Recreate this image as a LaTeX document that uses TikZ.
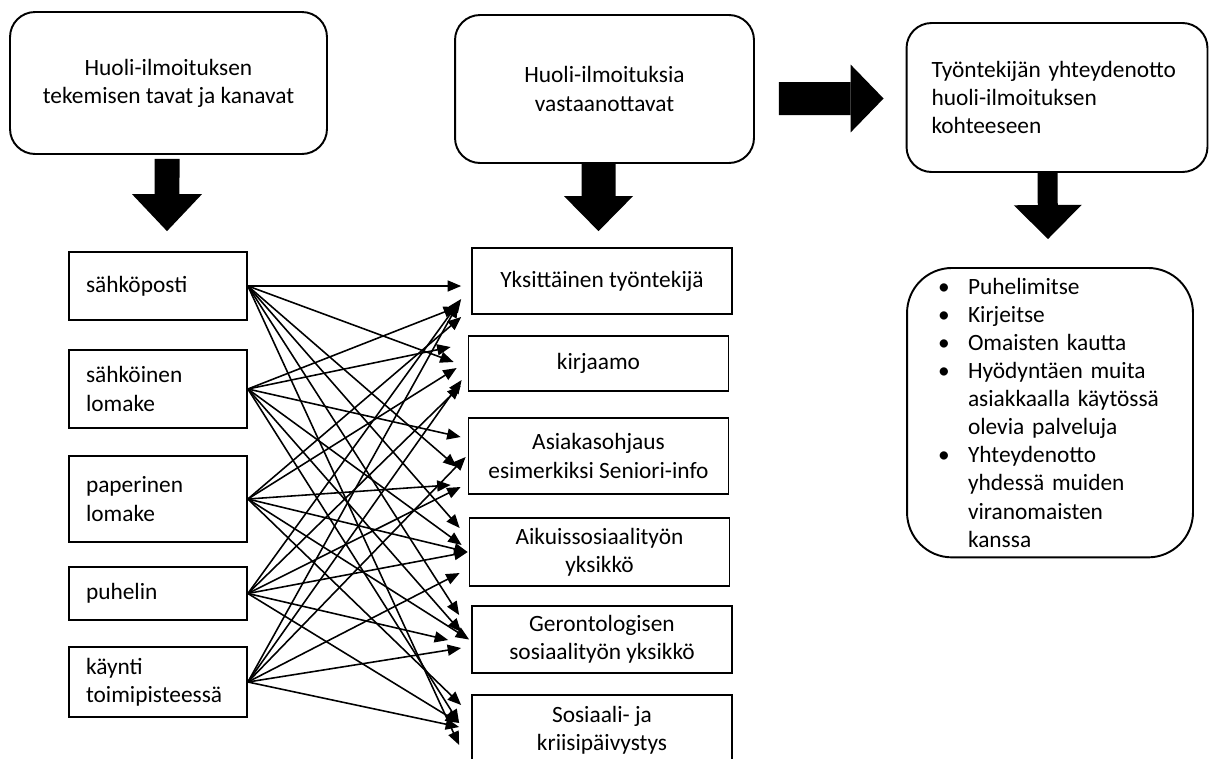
\documentclass[tikz,border=0pt]{standalone}
\usepackage{fontspec}
\setmainfont{Carlito}
\usetikzlibrary{positioning, arrows.meta, shapes}
\tikzstyle{heading} = [rectangle, rounded corners=0.5cm, 
align=center, draw=black, line width=1.1pt]
\tikzstyle{channel} = [rectangle, minimum width=3.56cm, 
text width=2.88cm, inner xsep=0.34cm, align=left, 
draw=black, line width=1pt]
\tikzstyle{receiver} = [rectangle, minimum width=5.2cm, 
align=center, draw=black, line width=1pt]
\tikzstyle{contact} = [rectangle, rounded corners=0.9cm, 
text width=4.48cm, inner xsep=0.62cm, inner ysep=0.2cm, 
align=left, draw=black, line width=1.1pt]
\tikzstyle{link} = [line width=0.9pt, 
-{Triangle[length=0.27cm, width=0.22cm]}]
\newcommand{\blt}{\makebox[0.6cm][l]{\textbullet}}
\newcommand{\bsp}{\makebox[0.6cm]{}}
\begin{document}
\begin{tikzpicture}[x=0.02cm, y=-0.02cm,
    every node/.style={font=\fontsize{13.3pt}{16pt}\selectfont}]
\useasboundingbox (0,0) rectangle (1209,758);

\node (tb1) [heading, minimum width=6.34cm, minimum height=2.84cm] 
at (168.5,83) {Huoli-ilmoituksen\\tekemisen tavat ja kanavat};

\node (tb2) [heading, minimum width=5.98cm, minimum height=2.96cm] 
at (604.5,89) {Huoli-ilmoituksia\\vastaanottavat};

\node (tb3) [heading, align=left, text width=5.02cm, inner xsep=0.5cm, 
minimum height=2.98cm] at (1057,97.5) 
{Työntekijän yhteydenotto\\huoli-ilmoituksen\\kohteeseen};

%-------channels-------------------
\node (s1) [channel, minimum height=1.36cm] at (158,286) {sähköposti};
\node (s2) [channel, minimum height=1.56cm] at (158,389) 
{sähköinen\\lomake};
\node (s3) [channel, minimum height=1.72cm] at (158,499) 
{paperinen\\lomake};
\node (s4) [channel, minimum height=1.06cm] at (158,593.5) {puhelin};
\node (s5) [channel, minimum height=1.4cm] at (158,682) 
{käynti\\toimipisteessä};

%-------receivers-------------------
\node (r1) [receiver, minimum height=1.32cm] at (602,281) 
{Yksittäinen työntekijä};
\node (r2) [receiver, minimum height=1.1cm] at (598.5,363.5) {kirjaamo};
\node (r3) [receiver, minimum height=1.52cm] at (598.5,456) 
{Asiakasohjaus\\esimerkiksi Seniori-info};
\node (r4) [receiver, minimum height=1.36cm] at (599.5,552) 
{Aikuissosiaalityön\\yksikkö};
\node (r5) [receiver, minimum height=1.34cm] at (602,639.5) 
{Gerontologisen\\sosiaalityön yksikkö};
\node (r6) [receiver, minimum height=1.4cm] at (602,730) 
{Sosiaali- ja\\kriisipäivystys};

%-------contact ways-------------------
\node (cb) [contact, anchor=north] at (1050,267) 
{\blt Puhelimitse\\
\blt Kirjeitse\\
\blt Omaisten kautta\\
\blt Hyödyntäen muita\\
\bsp asiakkaalla käytössä\\
\bsp olevia palveluja\\
\blt Yhteydenotto\\
\bsp yhdessä muiden\\
\bsp viranomaisten\\
\bsp kanssa};

%----------block arrows----------------
\draw [line width=0.5cm, 
-{Triangle[length=0.74cm, width=1.4cm, line width=0pt]}] 
([xshift=-0.03cm, yshift=-0.08cm]tb1.south) -- 
([xshift=0.18cm, yshift=0.4cm]s1.north);
\draw [line width=0.68cm, 
-{Triangle[length=0.7cm, width=1.38cm, line width=0pt]}] 
([xshift=-0.12cm]tb2.south) -- ([xshift=-0.07cm, yshift=0.32cm]r1.north);
\draw [line width=0.66cm, 
-{Triangle[length=0.66cm, width=1.36cm, line width=0pt]}] 
([xshift=0.48cm, yshift=-0.19cm]tb2.east) -- 
([xshift=-0.44cm, yshift=-0.02cm]tb3.west);
\draw [line width=0.4cm, 
-{Triangle[length=0.68cm, width=1.36cm, line width=0pt]}] 
([xshift=-0.19cm]tb3.south) -- ([xshift=-0.04cm, yshift=0.56cm]cb.north);

%----------arrows from s1----------------
\draw [link] (s1.east) -- ([xshift=-0.2cm, yshift=-0.1cm]r1.west);
\draw [link] (s1.east) -- ([xshift=-0.28cm, yshift=0.03cm]r2.west);
\draw [link] (s1.east) -- ([xshift=-0.22cm, yshift=-0.22cm]r3.west);
\draw [link] (s1.east) -- ([xshift=-0.18cm, yshift=0.48cm]r4.west);
\draw [link] (s1.east) -- ([xshift=-0.24cm, yshift=0.49cm]r5.west);
\draw [link] (s1.east) -- ([xshift=-0.24cm, yshift=-0.3cm]r6.west);

%----------arrows from s2----------------
\draw [link] (s2.east) -- ([xshift=-0.28cm, yshift=-0.52cm]r1.west);
\draw [link] (s2.east) -- ([xshift=-0.34cm, yshift=0.33cm]r2.west);
\draw [link] (s2.east) -- ([xshift=-0.14cm, yshift=0.38cm]r3.west);
\draw [link] (s2.east) -- ([xshift=-0.14cm, yshift=0.14cm]r4.west);
\draw [link] (s2.east) -- ([xshift=-0.2cm, yshift=0.15cm]r5.west);
\draw [link] (s2.east) -- ([xshift=-0.24cm, yshift=0.14cm]r6.west);

%----------arrows from s3----------------
\draw [link] (s3.east) -- ([xshift=-0.2cm, yshift=-0.72cm]r1.west);
\draw [link] (s3.east) -- ([xshift=-0.22cm, yshift=-0.09cm]r2.west);
\draw [link] (s3.east) -- ([xshift=-0.34cm, yshift=-0.58cm]r3.west);
\draw [link] (s3.east) -- ([xshift=-0.02cm]r4.west);
\draw [link] (s3.east) -- ([xshift=-0.04cm]r5.west);
\draw [link] (s3.east) -- ([xshift=-0.2cm, yshift=0.5cm]r6.west);

%----------arrows from s4----------------
\draw [link] (s4.east) -- ([xshift=-0.2cm, yshift=-0.36cm]r1.west);
\draw [link] (s4.east) -- ([xshift=-0.14cm, yshift=-0.45cm]r2.west);
\draw [link] (s4.east) -- ([xshift=-0.14cm, yshift=-0.62cm]r3.west);
\draw [link] (s4.east) -- ([xshift=-0.02cm]r4.west);
\draw [link] (s4.east) -- ([xshift=-0.46cm, yshift=-0.01cm]r5.west);
\draw [link] (s4.east) -- ([xshift=-0.24cm, yshift=0.14cm]r6.west);

%----------arrows from s5----------------
\draw [link] (s5.east) -- ([xshift=-0.26cm, yshift=-0.46cm]r1.west);
\draw [link] (s5.east) -- ([xshift=-0.12cm, yshift=-0.33cm]r2.west);
\draw [link] (s5.east) -- ([xshift=-0.04cm, yshift=-0.02cm]r3.west);
\draw [link] (s5.east) -- ([xshift=-0.18cm, yshift=-0.42cm]r4.west);
\draw [link] (s5.east) -- ([xshift=-0.2cm, yshift=-0.17cm]r5.west);
\draw [link] (s5.east) -- ([xshift=-0.24cm, yshift=0.06cm]r6.west);

\end{tikzpicture}
\end{document}
